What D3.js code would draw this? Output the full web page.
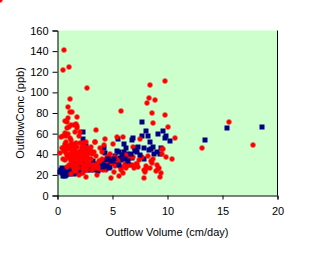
<!DOCTYPE html>
<html><head><meta charset="utf-8">
<script src="https://cdn.jsdelivr.net/npm/d3@7"></script>
<style>body{margin:0;background:#fff}svg{display:block}text{font-family:"Liberation Sans",Arial,sans-serif;font-size:11px;fill:#000}</style>
</head><body><svg id="c" width="318" height="269"></svg>
<script>
const xTicks=[0,5,10,15,20];
const yTicks=[0,20,40,60,80,100,120,140,160];
const xTitle="Outflow Volume (cm/day)";
const yTitle="OutflowConc (ppb)";
const navyX=[0.2,0.4,0.5,0.6,0.7,0.8,0.9,0.6,0.3,0.4,1.0,1.1,1.2,1.3,1.4,1.5,1.6,1.7,1.8,1.9,2.0,2.1,2.2,2.3,2.4,2.5,2.6,2.7,2.8,2.9,3.0,3.2,3.4,3.6,3.8,4.0,4.2,4.4,4.6,4.8,0.9,1.3,1.7,2.2,2.6,3.1,2.3,2.3,2.6,2.4,4.2,4.3,4.8,5.0,5.2,5.4,5.5,5.6,5.7,5.8,6.0,6.0,6.2,6.3,6.5,6.5,6.8,6.9,6.8,7.0,7.1,7.2,7.3,7.7,7.7,8.0,7.9,7.9,8.2,8.3,8.4,8.5,8.7,8.8,9.1,9.3,9.0,9.6,9.8,9.9,10.2,9.4,13.4,15.4,18.6,5.3,4.7,3.5,5.9,6.7,7.5,0.5,0.7,1.0,1.5,2.0,0.3,1.2,1.8,2.8,3.3,0.8,
3.0,3.3,3.7,3.9,4.1,4.5,4.9,5.1,2.5,2.0,1.6,4.6,5.6,6.1,6.4,7.0];
const navyY=[23,22,24,26,19,20,21,21,25,27,23,25,22,24,27,23,25,22,24,26,23,27,24,28,30,26,29,25,31,27,30,33,28,31,29,32,30,34,31,28,27,29,28,31,33,26,62,55,48,44,46,41,34,32,38,43,55,42,36,34,42,50,46,40,39,30,54,56,36,46,44,42,47,71,58,63,46,35,58,44,52,45,47,40,60,40,42,63,56,58,53,46,54,65,66,31,27,25,39,40,39,19,23,21,21,22,24,28,25,29,27,23,
25,27,24,26,28,29,33,35,34,30,32,35,30,35,33,43];
const redX=[0.58,0.46,1.09,2.64,1.18,0.91,1.12,1.3,1.73,0.97,0.82,0.7,1.03,0.85,1.27,1.49,1.64,1.79,1.73,1.6,0.7,0.52,0.36,1.18,1.27,1.97,2.58,3.37,3.49,5.74,8.38,9.74,8.29,8.1,8.86,8.59,9.8,8.68,10.0,5.95,5.37,10.68,7.5,13.1,15.6,17.75,10.38,9.29,7.86,4.83,2.55,3.55,1.94,0.21,5.07,6.9,9.47,9.5,4.0,4.25,5.1,5.6,5.98,6.98,7.19,7.4,7.6,7.95,8.07,8.0,8.56,8.7,8.95,9.1,9.26,6.9,6.8,6.22,6.34,6.16,5.43,5.25,5.67,4.61,4.4,4.76,3.85,3.7,4.04,
0.6,0.8,1.0,1.2,1.4,1.7,2.0,2.3,0.5,0.7,0.9,1.1,1.3,1.5,1.7,1.9,2.1,2.3,2.5,2.7,2.9,3.1,3.3,3.5,1.0,1.2,1.4,1.6,1.8,2.0,2.2,2.4,2.6,2.8,3.0,3.2,3.4,3.6,3.8,1.5,1.9,2.3,2.7,3.1,0.9,1.3,1.6,1.8,2.2,2.4,2.6,2.8,0.6,0.8,1.0,1.4,1.8,2.2,2.6,3.0,0.4,1.5,2.0,2.4,1.2,1.6,2.8,1.9,2.7,3.2,3.9,4.5,4.9,5.2,4.3,0.8,1.0,0.6,
1.35,1.55,1.85,2.05,2.25,2.45,2.65,1.45,1.65,1.95,2.15,2.35,2.55,1.25,2.95,3.45,0.75,0.95,1.15,2.1,2.3,2.0,1.7,2.9,3.7,4.1,4.4,5.5,5.9,6.4,6.6,7.1,7.3,7.7,8.2,8.5,9.0,9.6,9.9,6.0,4.8,3.9,3.1,2.4,1.6,0.9,0.65,2.75,3.55,5.75,6.25,7.85,8.45,9.4,9.2];
const redY=[141,122,125,104,94,86,81,81,76,75,71,72,66,65,68,68,69,67,65,62,61,58,57,56,54,58,52,52,64,82,107,111,95,90,93,80,78,70,66,57,57,56,55,46,71,49,35,18,17,17,18,20,20,41,50,47,45,40,42,49,23,19,22,27,31,34,37,23,26,29,32,35,24,26,27,37,30,39,36,31,34,29,28,31,27,36,26,28,35,
47,48,45,50,50,51,51,51,35,34,38,40,42,44,39,42,44,41,39,45,43,40,42,38,30,33,28,31,35,37,33,30,28,32,35,30,27,31,33,25,27,26,25,25,28,37,36,30,36,38,34,36,43,41,36,34,47,47,47,47,46,47,40,43,39,41,40,33,35,29,33,37,32,37,55,52,48,
45,38,43,36,41,34,38,31,32,27,37,32,28,42,21,44,52,58,60,46,39,22,62,24,31,28,25,25,33,28,30,36,31,28,37,38,33,30,45,37,38,40,46,42,36,24,45,50,29,27,25,27,25,27,22];
const svg=d3.select("#c");
const x=d3.scaleLinear().domain([0,20]).range([57.5,277.5]);
const y=d3.scaleLinear().domain([0,160]).range([195.5,30.5]);
svg.append("rect").attr("x",57.5).attr("y",30.5).attr("width",220).attr("height",165).attr("fill","#CCFFCC");
svg.append("line").attr("x1",277.5).attr("x2",277.5).attr("y1",30.5).attr("y2",195.5).attr("stroke","#000");
const gx=svg.append("g").attr("transform","translate(0,195.5)").call(d3.axisBottom(x).tickValues(xTicks).tickSize(4).tickPadding(8).tickFormat(d3.format("d")));
const gy=svg.append("g").attr("transform","translate(57.5,0)").call(d3.axisLeft(y).tickValues(yTicks).tickSize(5).tickPadding(4).tickFormat(d3.format("d")));
[gx,gy].forEach(g=>{g.select(".domain").attr("stroke","#000");g.selectAll(".tick line").attr("stroke","#000");g.selectAll("text").attr("font-size",11).attr("font-family","Liberation Sans, Arial, sans-serif").attr("fill","#000");});
// build one list of marks with a drawing order: navy (left cluster), red, navy (late points right of x=4)
const n1=Math.floor(navyX.length*0.75);
const navyMarks=navyX.map((v,i)=>({s:"navy",x:v,y:navyY[i],z:(i>=n1&&v>4)?2:0}));
const redMarks=redX.map((v,i)=>({s:"red",x:v,y:redY[i],z:1}));
const marks=navyMarks.concat(redMarks).map((d,k)=>({...d,k})).sort((a,b)=>a.z-b.z||a.k-b.k);
const cross="M-1.5,-2.5h3v1h1v3h-1v1h-3v-1h-1v-3h1z";
const square="M-2.5,-2.5h5v5h-5z";
svg.append("g").selectAll("path").data(marks).join("path")
 .attr("d",d=>d.s==="red"?cross:square)
 .attr("transform",d=>`translate(${Math.round(x(d.x))},${Math.round(y(d.y))})`)
 .attr("fill",d=>d.s==="red"?"#FF0000":"#000080");
svg.append("text").attr("x",167).attr("y",236).attr("text-anchor","middle").text(xTitle);
svg.append("text").attr("transform","translate(24,113) rotate(-90)").attr("text-anchor","middle").text(yTitle);
</script></body></html>
